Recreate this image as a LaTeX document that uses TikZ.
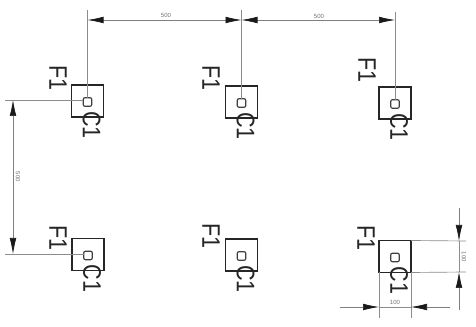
\documentclass[tikz,border=0pt]{standalone}
\usepackage{fontspec}
\setmainfont{Liberation Sans}
\usetikzlibrary{arrows.meta}
\tikzset{
  x=0.75pt,y=-0.75pt,
  unitbox/.style={draw=black!85,line width=1.1pt,minimum width=24pt,minimum height=24pt,inner sep=0pt,outer sep=0pt},
  hole/.style={draw=black!75,line width=0.9pt,rounded corners=1.5pt,minimum size=6.5pt,inner sep=0pt,outer sep=0pt},
  bigtext/.style={font=\fontsize{19}{19}\selectfont,text=black!85,rotate=-90,inner sep=0pt,xscale=0.85},
  dimtext/.style={font=\fontsize{4.5}{5}\selectfont,text=black!55,inner sep=0pt},
  extline/.style={draw=black!45,line width=0.5pt},
  dimline/.style={draw=black!45,line width=0.4pt},
  dimarrow/.style={draw=black!50,line width=0.5pt,-{Latex[black!90,length=12pt,width=5pt]}},
}
\begin{document}
\begin{tikzpicture}
\useasboundingbox (0,0) rectangle (476,327);
\fill[white] (0,0) rectangle (476,327);
% units: name / x / y
\foreach \n/\x/\y/\fx/\fy in {a/87.5/101/58/78, b/241.5/102/211/78, c/395/103/367/70, d/88/254.5/58/238, e/241.5/255/211/236, f/395/256.5/366/238}{
  \node[unitbox] (\n) at (\x,\y) {};
  \node[hole] (\n-h) at (\x,\y+1) {};
  \node[bigtext] (\n-F) at (\fx,\fy) {F1};
  \node[bigtext] (\n-C) at (\x+4,\y+24) {C1};
}
% top dimension
\coordinate (ta) at (87.5,20);
\coordinate (tb) at (241.5,20);
\coordinate (tc) at (395,20);
\coordinate (tae) at (87.5,10);
\coordinate (tbe) at (241.5,10);
\coordinate (tce) at (395,12);
\draw[extline] (tae) -- (a-h.north);
\draw[extline] (tbe) -- (b-h.north);
\draw[extline] (tce) -- (c-h.north);
\coordinate (tm1) at (165,20);
\coordinate (tm2) at (318,20);
\draw[dimarrow] (tm1) -- (ta);
\draw[dimarrow] (tm1) -- (tb);
\draw[dimarrow] (tm2) -- (tb);
\draw[dimarrow] (tm2) -- (tc);
\node[dimtext] (t1) at (166,15) {500};
\node[dimtext] (t2) at (319,16) {500};
% left dimension
\coordinate (la) at (13,100);
\coordinate (ld) at (13,254);
\coordinate (lae) at (5,100);
\coordinate (lde) at (5,254);
\coordinate (lm) at (13,177);
\draw[extline] (lae) -- (lae -| a-h.west);
\draw[extline] (lde) -- (lde -| d-h.west);
\draw[dimarrow] (lm) -- (la);
\draw[dimarrow] (lm) -- (ld);
\node[dimtext,rotate=-90] (t3) at (18,177) {500};
% right dimension
\coordinate (rt) at (459,241);
\coordinate (rb) at (459,272);
\coordinate (rte) at (459,208);
\coordinate (rbe) at (459,310);
\draw[extline] (f.north east) -- (466,241);
\draw[extline] (f.south east) -- (466,272);
\draw[dimline] (rt) -- (rb);
\draw[dimarrow] (rte) -- (rt);
\draw[dimarrow] (rbe) -- (rb);
\node[dimtext,rotate=-90] (t4) at (464,257) {100};
% bottom dimension
\coordinate (bl) at (379,307);
\coordinate (br) at (411,307);
\coordinate (ble) at (340,307);
\coordinate (bre) at (450,307);
\draw[extline] (f.south west) -- (379,318);
\draw[extline] (f.south east) -- (411,318);
\draw[dimline] (bl) -- (br);
\draw[dimarrow] (ble) -- (bl);
\draw[dimarrow] (bre) -- (br);
\node[dimtext] (t5) at (395,302) {100};
\end{tikzpicture}
\end{document}
